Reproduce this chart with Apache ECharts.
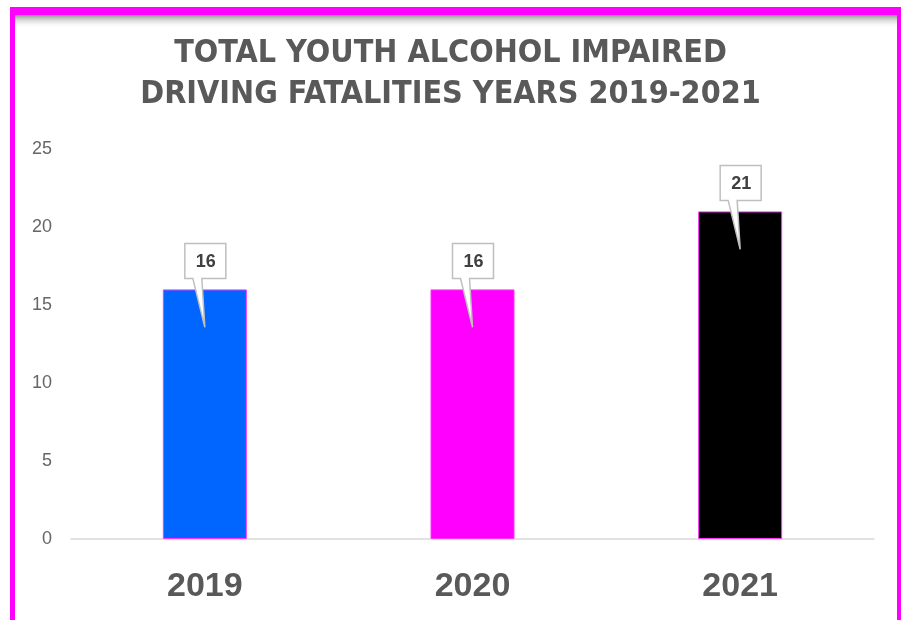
<!DOCTYPE html>
<html>
<head>
<meta charset="utf-8">
<script src="https://cdn.jsdelivr.net/npm/echarts@6/dist/echarts.min.js"></script>
<style>html,body{margin:0;padding:0;background:#fff;}#c{width:901px;height:620px;}</style>
</head>
<body>
<div id="c"></div>
<script>
const categories = ['2019', '2020', '2021'];
const values = [16, 16, 21];
const barColors = ['#0066ff', '#ff00ff', '#000000'];
const yTicks = [0, 5, 10, 15, 20, 25];
const titleText = 'TOTAL YOUTH ALCOHOL IMPAIRED\nDRIVING FATALITIES YEARS 2019-2021';

const chart = echarts.init(document.getElementById('c'));
chart.setOption({
  backgroundColor: '#ffffff',
  animation: false,
  title: {
    text: titleText,
    left: 'center',
    top: 28,
    textStyle: {
      fontFamily: 'DejaVu Sans Condensed',
      fontWeight: 'bold',
      fontSize: 32,
      lineHeight: 41,
      color: '#595959'
    }
  },
  grid: { left: 71, right: 27, top: 149, bottom: 81 },
  xAxis: {
    type: 'category',
    data: categories,
    axisLine: { lineStyle: { color: '#d9d9d9', width: 1.5 } },
    axisTick: { show: false },
    axisLabel: {
      margin: 31,
      fontFamily: 'Liberation Sans',
      fontWeight: 'bold',
      fontSize: 34,
      color: '#595959'
    }
  },
  yAxis: {
    type: 'value',
    min: yTicks[0],
    max: yTicks[yTicks.length - 1],
    interval: 5,
    axisLine: { show: false },
    axisTick: { show: false },
    splitLine: { show: false },
    axisLabel: {
      margin: 19,
      fontFamily: 'Liberation Sans',
      fontSize: 18,
      color: '#666666'
    }
  },
  series: [
    {
      type: 'bar',
      barWidth: 84,
      data: values.map((v, i) => ({
        value: v,
        itemStyle: { color: barColors[i], borderColor: '#ff33ff', borderWidth: 1 }
      }))
    },
    {
      type: 'custom',
      z: 10,
      data: values.map((v, i) => [i, v]),
      renderItem: function (params, api) {
        const p = api.coord([api.value(0), api.value(1)]);
        const x = p[0], y = p[1];
        return {
          type: 'group',
          children: [
            {
              type: 'polygon',
              shape: {
                points: [
                  [x - 20, y - 46], [x + 21, y - 46], [x + 21, y - 11],
                  [x - 3, y - 11], [x, y + 38], [x - 12, y - 11], [x - 20, y - 11]
                ]
              },
              style: { fill: '#ffffff', stroke: '#bfbfbf', lineWidth: 1.5 }
            },
            {
              type: 'text',
              style: {
                text: String(api.value(1)),
                x: x + 1,
                y: y - 27,
                align: 'center',
                verticalAlign: 'middle',
                font: 'bold 18px "Liberation Sans"',
                fill: '#404040'
              }
            }
          ]
        };
      }
    }
  ],
  graphic: [
    {
      type: 'rect', z: 100,
      shape: { x: 15, y: 15, width: 882, height: 13 },
      style: {
        fill: new echarts.graphic.LinearGradient(0, 0, 0, 1, [
          { offset: 0, color: 'rgba(120,120,120,0.8)' },
          { offset: 1, color: 'rgba(255,255,255,0)' }
        ])
      }
    },
    { type: 'rect', z: 101, shape: { x: 10, y: 7, width: 891, height: 8 }, style: { fill: '#ff00ff' } },
    { type: 'rect', z: 101, shape: { x: 10, y: 7, width: 5, height: 613 }, style: { fill: '#ff00ff' } },
    { type: 'rect', z: 101, shape: { x: 897, y: 7, width: 4, height: 613 }, style: { fill: '#ff00ff' } }
  ]
});
</script>
</body>
</html>
